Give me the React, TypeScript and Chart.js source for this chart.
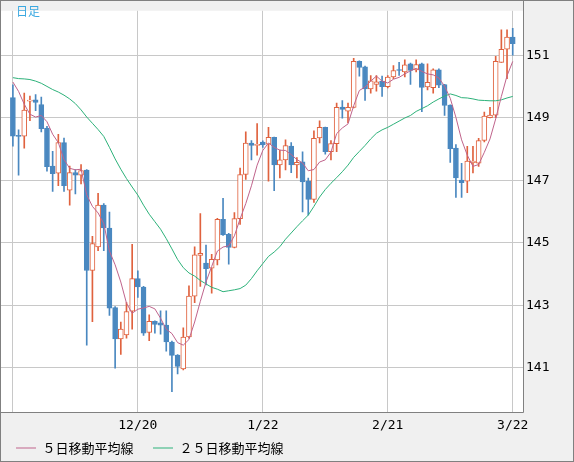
import { useEffect, useRef } from "react";
import { Chart, registerables } from "chart.js";

Chart.register(...registerables);

// Daily candles (index 0 .. 88)
const open = [
  149.64, 148.43, 148.41, 149.53, 149.57, 149.42, 148.67, 147.45, 147.22, 148.2,
  146.68, 147.24, 147.16, 147.32, 144.11, 144.86, 146.2, 145.47, 142.92, 141.92,
  142.05, 142.81, 143.85, 143.58, 142.13, 142.48, 142.43, 142.36, 141.82, 141.4,
  140.96, 141.98, 143.29, 144.59, 144.35, 144.18, 144.45, 145.75, 145.27, 144.85,
  145.77, 147.18, 148.19, 148.11, 148.22, 148.15, 148.37, 147.49, 147.65, 148.09,
  147.49, 147.59, 146.97, 146.38, 148.35, 148.69, 147.91, 148.17, 149.34, 149.21,
  149.33, 150.8, 150.63, 149.92, 150.06, 150.17, 149.99, 150.3, 150.53, 150.46,
  150.72, 150.53, 150.72, 149.98, 149.96, 150.53, 150.06, 149.4, 148.03, 147.0,
  146.97, 147.56, 147.54, 148.27, 149.0, 149.08, 150.77, 151.19, 151.58,
];
const high = [
  150.05, 148.61, 149.79, 149.69, 149.74, 149.66, 148.72, 147.92, 148.47, 148.35,
  147.45, 147.34, 147.5, 147.34, 145.2, 146.58, 146.25, 145.98, 142.95, 142.46,
  143.08, 144.95, 144.1, 143.6, 142.69, 142.5, 142.82, 142.82, 141.85, 141.42,
  142.27, 143.62, 144.87, 145.93, 144.92, 144.63, 145.78, 146.42, 145.3, 145.96,
  147.39, 148.55, 148.27, 148.81, 148.26, 148.69, 148.38, 147.96, 148.29, 148.2,
  147.72, 147.91, 147.07, 148.58, 148.9, 148.7, 148.27, 149.47, 149.55, 149.47,
  150.9, 150.82, 150.65, 150.35, 150.35, 150.33, 150.35, 150.67, 150.77, 150.85,
  150.75, 150.85, 150.75, 150.72, 150.56, 150.56, 150.07, 149.41, 148.14, 147.54,
  148.08, 148.08, 148.34, 149.18, 149.33, 150.96, 151.81, 151.81, 151.86,
];
const low = [
  148.09, 147.16, 148.02, 148.9, 149.22, 148.54, 147.29, 146.64, 146.82, 146.64,
  146.2, 146.56, 146.88, 141.72, 142.47, 144.74, 144.74, 142.67, 140.98, 141.42,
  141.94, 142.23, 143.25, 142.03, 141.86, 142.1, 142.07, 141.53, 140.23, 140.8,
  140.93, 141.94, 143.08, 143.6, 143.65, 143.38, 144.29, 145.23, 144.31, 144.83,
  145.58, 147.02, 147.65, 147.8, 148.05, 146.97, 146.66, 147.07, 147.33, 147.24,
  147.07, 145.98, 145.88, 146.29, 148.19, 147.83, 147.65, 147.91, 148.98, 148.84,
  149.31, 150.33, 149.55, 149.78, 149.85, 149.68, 149.95, 150.25, 150.35, 150.3,
  150.06, 150.46, 149.19, 149.89, 149.78, 149.96, 149.07, 147.57, 146.45, 146.45,
  146.6, 147.23, 147.44, 148.22, 148.99, 149.0, 150.77, 150.25, 151.0,
];
const close = [
  148.41, 148.4, 149.24, 149.56, 149.49, 148.65, 147.43, 147.21, 148.2, 146.82,
  147.24, 147.16, 147.31, 144.11, 144.97, 146.2, 145.47, 142.9, 141.92, 142.23,
  142.79, 143.85, 143.58, 142.1, 142.48, 142.38, 142.36, 141.82, 141.39, 141.04,
  141.98, 143.29, 144.61, 144.66, 144.17, 144.47, 145.75, 145.25, 144.85, 145.77,
  147.18, 148.19, 148.11, 148.15, 148.13, 148.37, 147.49, 147.65, 148.11, 147.49,
  147.57, 146.94, 146.38, 148.34, 148.69, 147.91, 148.17, 149.33, 149.26, 149.33,
  150.8, 150.61, 149.92, 150.18, 150.15, 149.99, 150.3, 150.51, 150.51, 150.69,
  150.51, 150.7, 149.97, 150.13, 150.53, 150.04, 149.39, 148.01, 147.07, 146.92,
  147.61, 147.61, 148.27, 149.05, 149.08, 150.8, 151.19, 151.58, 151.37,
];

// Moving averages
const ma5 = [
  150.14, 149.84, 149.43, 149.11, 149.02, 149.07, 148.87, 148.47, 148.2, 147.66,
  147.38, 147.33, 147.35, 146.53, 146.16, 145.95, 145.61, 144.73, 144.29, 143.74,
  143.06, 142.74, 142.87, 142.91, 142.96, 142.88, 142.58, 142.23, 142.09, 141.8,
  141.72, 141.9, 142.46, 143.12, 143.74, 144.24, 144.73, 144.86, 144.9, 145.22,
  145.76, 146.25, 146.82, 147.48, 147.95, 148.19, 148.05, 147.96, 147.95, 147.82,
  147.66, 147.55, 147.3, 147.34, 147.58, 147.65, 147.9, 148.49, 148.67, 148.8,
  149.38, 149.87, 149.98, 150.17, 150.33, 150.17, 150.11, 150.23, 150.29, 150.4,
  150.5, 150.58, 150.48, 150.4, 150.37, 150.27, 150.01, 149.62, 149.01, 148.29,
  147.8, 147.44, 147.5, 147.89, 148.32, 148.96, 149.68, 150.34, 150.8,
];
const ma25 = [
  150.28, 150.25, 150.24, 150.22, 150.17, 150.1, 150.0, 149.9, 149.82, 149.72,
  149.6, 149.45, 149.25, 149.02, 148.82, 148.62, 148.4, 148.05, 147.68, 147.35,
  147.05, 146.78, 146.52, 146.2, 145.91, 145.67, 145.43, 145.13, 144.8, 144.46,
  144.2, 144.03, 143.93, 143.79, 143.68, 143.57, 143.51, 143.43, 143.46, 143.49,
  143.53, 143.64, 143.85, 144.1, 144.33, 144.56, 144.7, 144.87, 145.11, 145.31,
  145.51, 145.7, 145.88, 146.16, 146.46, 146.7, 146.9, 147.08, 147.27, 147.48,
  147.73, 147.92, 148.11, 148.32, 148.5, 148.61, 148.69, 148.79, 148.89, 148.99,
  149.07, 149.2, 149.29, 149.38, 149.5, 149.6, 149.69, 149.76, 149.71, 149.64,
  149.63, 149.6, 149.56, 149.55, 149.54, 149.54, 149.57, 149.63, 149.68,
];

const xTickIndex = [0, 22, 44, 66, 88];
const xTickLabels = ["", "12/20", "1/22", "2/21", "3/22"];
const yTicks = [141, 143, 145, 147, 149, 151];
const seriesLabels = ["５日移動平均線", "２５日移動平均線"];
const titleText = "日足";

const UP = "#e0623e";
const DOWN = "#4a88c0";
const MA5C = "#c0648c";
const MA25C = "#2db27a";
const GRID = "#c8c8c8";
const FRAME = "#808080";

export default function App() {
  const ref = useRef<HTMLCanvasElement>(null);

  useEffect(() => {
    document.body.style.margin = "0";
    const canvas = ref.current;
    if (!canvas) return;
    const isUp = (i: number) => close[i] >= open[i];

    const framePlugin = {
      id: "frame",
      beforeDraw(chart: any) {
        const { ctx, chartArea: a, width, height } = chart;
        ctx.save();
        ctx.fillStyle = "#f0f0f0";
        ctx.fillRect(0, 0, width, height);
        ctx.fillStyle = "#ffffff";
        ctx.fillRect(1, a.top, a.right - 1, a.bottom - a.top);
        ctx.restore();
      },
      afterDraw(chart: any) {
        const { ctx, chartArea: a, width, height } = chart;
        ctx.save();
        ctx.strokeStyle = FRAME;
        ctx.lineWidth = 1;
        ctx.strokeRect(0.5, 0.5, width - 1, height - 1);
        ctx.beginPath();
        ctx.moveTo(a.right + 0.5, 0);
        ctx.lineTo(a.right + 0.5, a.bottom + 0.5);
        ctx.lineTo(0, a.bottom + 0.5);
        ctx.stroke();
        ctx.fillStyle = "#3aa8e0";
        ctx.font = "12px 'Noto Sans CJK JP'";
        ctx.textBaseline = "middle";
        ctx.textAlign = "left";
        ctx.fillText(titleText, 16, 11);
        ctx.restore();
      },
    };

    const tickFont = { family: "'DejaVu Sans Mono', monospace", size: 13 };

    const chart = new Chart(canvas, {
      type: "bar",
      data: {
        datasets: [
          {
            label: "wick",
            data: close.map((_, i) => ({ x: i, y: [low[i], high[i]] })) as any,
            backgroundColor: (c: any) => (isUp(c.dataIndex) ? UP : DOWN),
            borderWidth: 0,
            barThickness: 1,
            grouped: false,
            order: 3,
          } as any,
          {
            label: "body",
            data: close.map((_, i) => ({ x: i, y: [open[i], close[i]] })) as any,
            backgroundColor: (c: any) => (isUp(c.dataIndex) ? "#ffffff" : DOWN),
            borderColor: (c: any) => (isUp(c.dataIndex) ? UP : DOWN),
            borderWidth: 1,
            borderSkipped: false,
            barThickness: 5,
            minBarLength: 1,
            grouped: false,
            order: 2,
          } as any,
          {
            type: "line",
            label: seriesLabels[0],
            data: ma5.map((v, i) => ({ x: i, y: v })),
            borderColor: MA5C,
            backgroundColor: MA5C,
            borderWidth: 1,
            pointRadius: 0,
            tension: 0,
            fill: false,
            order: 0,
          } as any,
          {
            type: "line",
            label: seriesLabels[1],
            data: ma25.map((v, i) => ({ x: i, y: v })),
            borderColor: MA25C,
            backgroundColor: MA25C,
            borderWidth: 1,
            pointRadius: 0,
            tension: 0,
            fill: false,
            order: 1,
          } as any,
        ],
      },
      options: {
        responsive: false,
        maintainAspectRatio: false,
        animation: false,
        events: [],
        layout: { padding: { left: -3.5, top: 1, right: 0, bottom: -2.5 } },
        scales: {
          x: {
            type: "linear",
            min: -2.27,
            max: 89.81,
            offset: false,
            afterBuildTicks: (s: any) => {
              s.ticks = xTickIndex.map((v) => ({ value: v }));
            },
            afterFit: (s: any) => {
              s.height = 10;
            },
            ticks: {
              callback: (v: any) => {
                const k = xTickIndex.indexOf(Number(v));
                return k >= 0 ? xTickLabels[k] : "";
              },
              font: tickFont,
              color: "#000",
              mirror: true,
              padding: -21.3,
              maxRotation: 0,
              autoSkip: false,
            },
            grid: { color: GRID, lineWidth: 1, drawTicks: false, offset: false },
            border: { display: false },
          },
          y: {
            type: "linear",
            position: "right",
            min: 139.58,
            max: 152.42,
            afterBuildTicks: (s: any) => {
              s.ticks = yTicks.map((v) => ({ value: v }));
            },
            afterFit: (s: any) => {
              s.width = 51;
            },
            ticks: {
              callback: (v: any) => String(v),
              font: tickFont,
              color: "#000",
              padding: 3,
            },
            grid: { color: GRID, lineWidth: 1, drawTicks: false },
            border: { display: false },
          },
        } as any,
        plugins: {
          tooltip: { enabled: false },
          title: { display: false },
          legend: {
            display: true,
            position: "bottom",
            align: "start",
            labels: {
              usePointStyle: true,
              pointStyle: "line",
              pointStyleWidth: 20,
              padding: 19.5,
              color: "#000",
              font: { family: "'Noto Sans CJK JP'", size: 13 },
              filter: (item: any) => item.datasetIndex >= 2,
            },
          },
        },
      } as any,
      plugins: [framePlugin],
    });

    return () => chart.destroy();
  }, []);

  return (
    <div style={{ width: 574, height: 462 }}>
      <canvas ref={ref} width={574} height={462} style={{ display: "block" }} />
    </div>
  );
}
